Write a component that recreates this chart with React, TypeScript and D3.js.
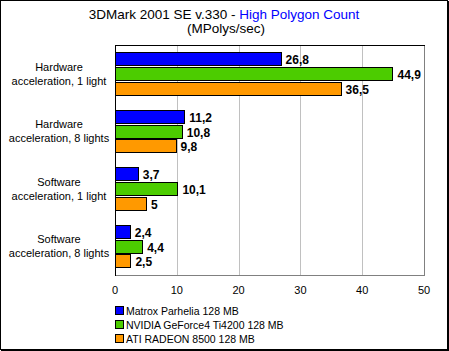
import React from "react";
import * as d3 from "d3";

const categories: string[][] = [
  ["Hardware", "acceleration, 1 light"],
  ["Hardware", "acceleration, 8 lights"],
  ["Software", "acceleration, 1 light"],
  ["Software", "acceleration, 8 lights"],
];
const seriesNames = ["Matrox Parhelia 128 MB", "NVIDIA GeForce4 Ti4200 128 MB", "ATI RADEON 8500 128 MB"];
const seriesColors = ["#0000ff", "#4ccc00", "#ff9900"];
const matrox = [26.8, 11.2, 3.7, 2.4];
const nvidia = [44.9, 10.8, 10.1, 4.4];
const ati = [36.5, 9.8, 5, 2.5];
const seriesValues = [matrox, nvidia, ati];
const xTicks = [0, 10, 20, 30, 40, 50];

const W = 449;
const H = 351;
const FONT = "'Liberation Sans', Arial, sans-serif";

export default function App() {
  const left = 115, right = 424, top = 45, bottom = 275;
  const x = d3.scaleLinear().domain([0, 50]).range([left, right]);
  const y = d3.scaleBand<number>().domain(d3.range(categories.length)).range([top, bottom]).paddingInner(0.25).paddingOuter(0.125);
  const ys = d3.scaleBand<number>().domain(d3.range(seriesNames.length)).range([0, y.bandwidth()]).paddingInner(0.1);
  const fmt = (v: number) => String(v).replace(".", ",");
  return (
    <svg width={W} height={H} style={{ position: "absolute", left: 0, top: 0 }} fontFamily={FONT}>
      <rect x={0} y={0} width={W} height={H} fill="#fff" />
      <rect x={0.5} y={0.5} width={447} height={349} fill="none" stroke="#000" />
      <line x1={448.5} x2={448.5} y1={1} y2={351} stroke="#000" />
      <line x1={1} x2={449} y1={350.5} y2={350.5} stroke="#000" />
      <text x={224} y={19} textAnchor="middle" fontSize={13.5} fill="#000">
        3DMark 2001 SE v.330 - <tspan fill="#0000ff">High Polygon Count</tspan>
      </text>
      <text x={226} y={33} textAnchor="middle" fontSize={13.5} fill="#000">(MPolys/sec)</text>
      {xTicks.slice(1).map((t) => (
        <line key={t} x1={Math.round(x(t)) + 0.5} x2={Math.round(x(t)) + 0.5} y1={top} y2={bottom} stroke={t === 50 ? "#808080" : "#c0c0c0"} />
      ))}
      <line x1={left} x2={right + 1} y1={bottom + 0.5} y2={bottom + 0.5} stroke="#808080" />
      <line x1={left} x2={right + 1} y1={top + 0.5} y2={top + 0.5} stroke="#000" />
      <line x1={left + 0.5} x2={left + 0.5} y1={top} y2={bottom + 1} stroke="#000" />
      {categories.map((c, i) => {
        const cy = (y(i) as number) + y.bandwidth() / 2;
        return (
          <text key={i} textAnchor="middle" fontSize={11} fill="#000">
            <tspan x={59} y={cy - 3}>{c[0]}</tspan>
            <tspan x={59} y={cy + 11}>{c[1]}</tspan>
          </text>
        );
      })}
      {seriesValues.map((vals, s) =>
        vals.map((v, i) => {
          const by = Math.round((y(i) as number) + (ys(s) as number));
          const bh = Math.round(ys.bandwidth());
          const bx = x(0);
          const bw = x(v) - x(0);
          return (
            <g key={`${s}-${i}`}>
              <rect x={bx + 0.5} y={by + 0.5} width={Math.round(bw)} height={bh} fill={seriesColors[s]} stroke="#000" />
              <text x={bx + bw + 5} y={by + bh / 2 + 5} fontSize={12} fontWeight="bold" fill="#000">{fmt(v)}</text>
            </g>
          );
        })
      )}
      {xTicks.map((t) => (
        <text key={t} x={x(t)} y={294} textAnchor="middle" fontSize={11} fill="#000">{t}</text>
      ))}
      {seriesNames.map((n, s) => (
        <g key={n}>
          <rect x={115.5} y={306.5 + s * 14} width={8} height={8} fill={seriesColors[s]} stroke="#000" />
          <text x={126} y={315 + s * 14} fontSize={10.5} fill="#000">{n}</text>
        </g>
      ))}
    </svg>
  );
}
